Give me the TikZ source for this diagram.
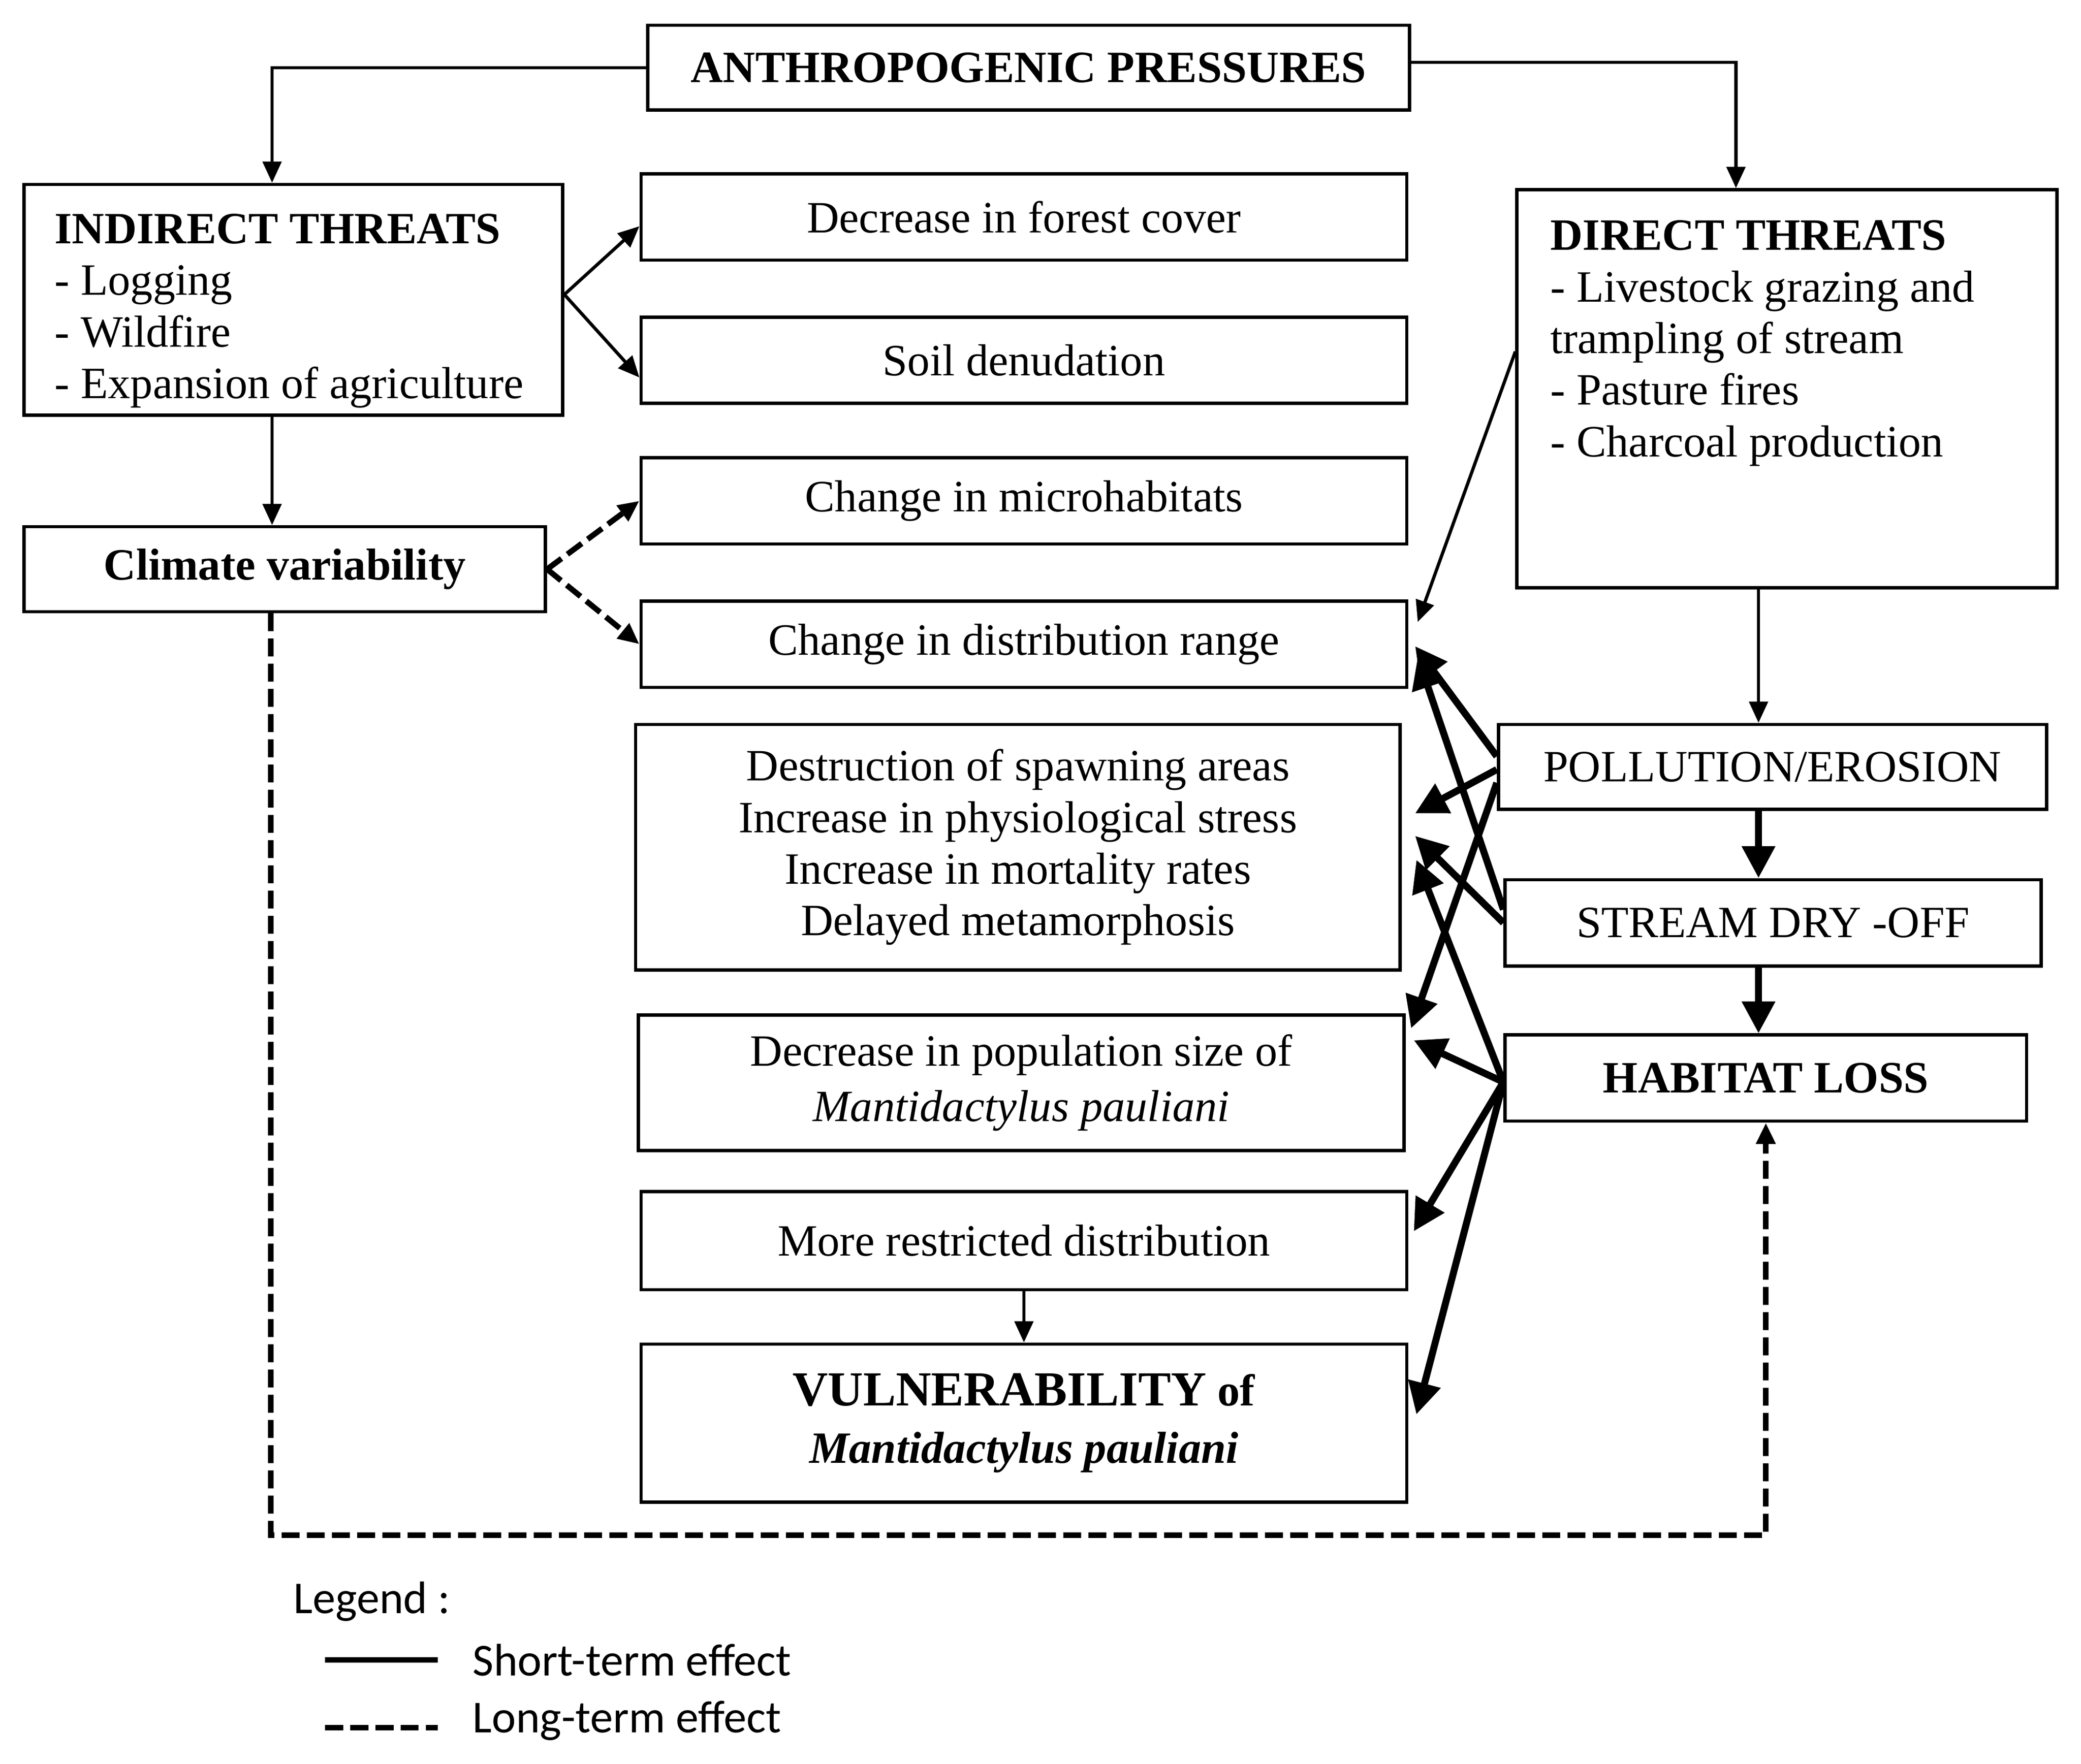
\documentclass[tikz,border=0pt]{standalone}
\usepackage{fontspec}
\setmainfont{Liberation Serif}
\newfontfamily\legendfont{Carlito}
\usetikzlibrary{arrows.meta}

\tikzset{
    box/.style={draw, rectangle, line width=0.7pt, align=center, inner sep=0.1cm,
        font=\fontsize{9.6}{11.06}\selectfont},
    boxtext/.style={anchor=north west, inner sep=0, align=left, font=\fontsize{9.6}{11.06}\selectfont},
    longterm/.style={line width=1.2pt, dash pattern=on 0.135cm off 0.055cm},
    heavy/.style={line width=1.5pt, >={Triangle[length=0.24cm, width=0.24cm]}},
    legendtext/.style={anchor=west, inner sep=0, font=\legendfont\fontsize{9.8}{11.8}\selectfont},
}

\begin{document}
\begin{tikzpicture}[line width=0.7pt, >={Triangle[length=0.16cm, width=0.14cm]}]
        \useasboundingbox (0,0) rectangle (15.68,-13.291);
        % sources
        \node [box, minimum width=5.74cm, minimum height=0.64cm] (ap) at (7.75,-0.51) {\textbf{ANTHROPOGENIC PRESSURES}};
        \node [box, minimum width=4.06cm, minimum height=1.74cm] (it) at (2.21,-2.26) {};
        \node [boxtext] (itt) at (0.40,-1.60)
            {\textbf{INDIRECT THREATS}\\- Logging\\- Wildfire\\- Expansion of agriculture};
        \node [box, minimum width=3.93cm, minimum height=0.64cm] (cv) at (2.145,-4.29) {\textbf{Climate variability}};
        \node [box, minimum width=4.07cm, minimum height=3cm] (dt) at (13.465,-2.93) {};
        \node [boxtext] (dtt) at (11.67,-1.65)
            {\textbf{DIRECT THREATS}\\- Livestock grazing and\\trampling of stream\\- Pasture fires\\- Charcoal production};
        \node [box, minimum width=4.13cm, minimum height=0.64cm] (pe) at (13.355,-5.78) {POLLUTION/EROSION};
        \node [box, minimum width=4.04cm, minimum height=0.65cm] (dy) at (13.36,-6.955) {STREAM DRY -OFF};
        \node [box, minimum width=3.93cm, minimum height=0.65cm] (hl) at (13.305,-8.125) {\textbf{HABITAT LOSS}};
        % effects
        \node [box, minimum width=5.77cm, minimum height=0.65cm] (fc) at (7.715,-1.635) {Decrease in forest cover};
        \node [box, minimum width=5.77cm, minimum height=0.65cm] (so) at (7.715,-2.715) {Soil denudation};
        \node [box, minimum width=5.77cm, minimum height=0.65cm] (mh) at (7.715,-3.775) {Change in microhabitats};
        \node [box, minimum width=5.77cm, minimum height=0.65cm] (dr) at (7.715,-4.855) {Change in distribution range};
        \node [box, minimum width=5.76cm, minimum height=1.85cm] (sp) at (7.67,-6.385)
            {Destruction of spawning areas\\Increase in physiological stress\\Increase in mortality rates\\Delayed metamorphosis};
        \node [box, minimum width=5.77cm, minimum height=1.02cm] (ps) at (7.695,-8.16)
            {Decrease in population size of\\[0.03cm]\textit{Mantidactylus pauliani}};
        \node [box, minimum width=5.77cm, minimum height=0.74cm] (rd) at (7.715,-9.35) {More restricted distribution};
        \node [box, minimum width=5.77cm, minimum height=1.19cm] (vu) at (7.715,-10.725)
            {{\fontsize{10.5}{12}\selectfont\textbf{VULNERABILITY}} \textbf{of}\\[0.04cm]\textbf{\textit{Mantidactylus pauliani}}};
        % thin links
        \draw [->] (ap.west) -| ([xshift=-0.16cm]it.north);
        \draw [->] ([yshift=0.04cm]ap.east) -| ([xshift=-0.385cm]dt.north);
        \draw [->] ([xshift=-0.16cm]it.south) -- ([xshift=-0.16cm]it.south |- cv.north);
        \draw [->] ([yshift=0.04cm]it.east) -- ([yshift=-0.07cm]fc.west);
        \draw [->] ([yshift=0.04cm]it.east) -- ([yshift=-0.13cm]so.west);
        \draw [->] ([yshift=0.28cm]dt.west) -- ([xshift=0.07cm,yshift=-0.17cm]dr.north east);
        \draw [->] ([xshift=-0.215cm]dt.south) -- ([xshift=-0.215cm]dt.south |- pe.north);
        \draw [->] (rd.south) -- (vu.north);
        % long-term links
        \draw [longterm, ->] (cv.east) -- (mh.west);
        \draw [longterm, ->] (cv.east) -- (dr.west);
        \coordinate (lc) at (2.04,-11.57);
        \draw [longterm, ->] ([xshift=-0.105cm]cv.south) -- (lc) -| (hl.south);
        % heavy links
        \draw [heavy, ->] ([xshift=-0.105cm]pe.south) -- ([xshift=-0.105cm]pe.south |- dy.north);
        \draw [heavy, ->] ([xshift=-0.11cm]dy.south) -- ([xshift=-0.11cm]dy.south |- hl.north);
        \draw [heavy, ->] ([yshift=0.08cm]pe.west) -- ([xshift=0.05cm,yshift=-0.015cm]dr.east);
        \draw [heavy, ->] ([yshift=-0.02cm]pe.west) -- ([xshift=0.1cm,yshift=0.255cm]sp.east);
        \draw [heavy, ->] ([yshift=-0.12cm]pe.west) -- ([xshift=0.04cm,yshift=0.41cm]ps.east);
        \draw [heavy, ->] ([yshift=0.1cm]dy.west) -- ([xshift=0.07cm,yshift=-0.095cm]dr.east);
        \draw [heavy, ->] (dy.west) -- ([xshift=0.1cm,yshift=0.085cm]sp.east);
        \draw [heavy, ->] ([yshift=-0.03cm]hl.west) -- ([xshift=0.11cm,yshift=-0.095cm]sp.east);
        \draw [heavy, ->] ([yshift=-0.03cm]hl.west) -- ([xshift=0.06cm,yshift=0.32cm]ps.east);
        \draw [heavy, ->] ([yshift=-0.03cm]hl.west) -- ([xshift=0.04cm,yshift=0.07cm]rd.east);
        \draw [heavy, ->] ([yshift=-0.03cm]hl.west) -- ([xshift=0.06cm,yshift=0.065cm]vu.east);
        % legend
        \node [legendtext] (lg) at (2.20,-12.07) {Legend :};
        \node [legendtext] (ls) at (3.55,-12.51) {Short-term effect};
        \node [legendtext] (ll) at (3.55,-12.97) {Long-term effect};
        \draw [line width=1.2pt] ([xshift=-1.1cm]ls.west) -- ([xshift=-0.25cm]ls.west);
        \draw [longterm] ([xshift=-1.1cm,yshift=-0.05cm]ll.west) -- ([xshift=-0.25cm,yshift=-0.05cm]ll.west);
    \end{tikzpicture}
\end{document}
